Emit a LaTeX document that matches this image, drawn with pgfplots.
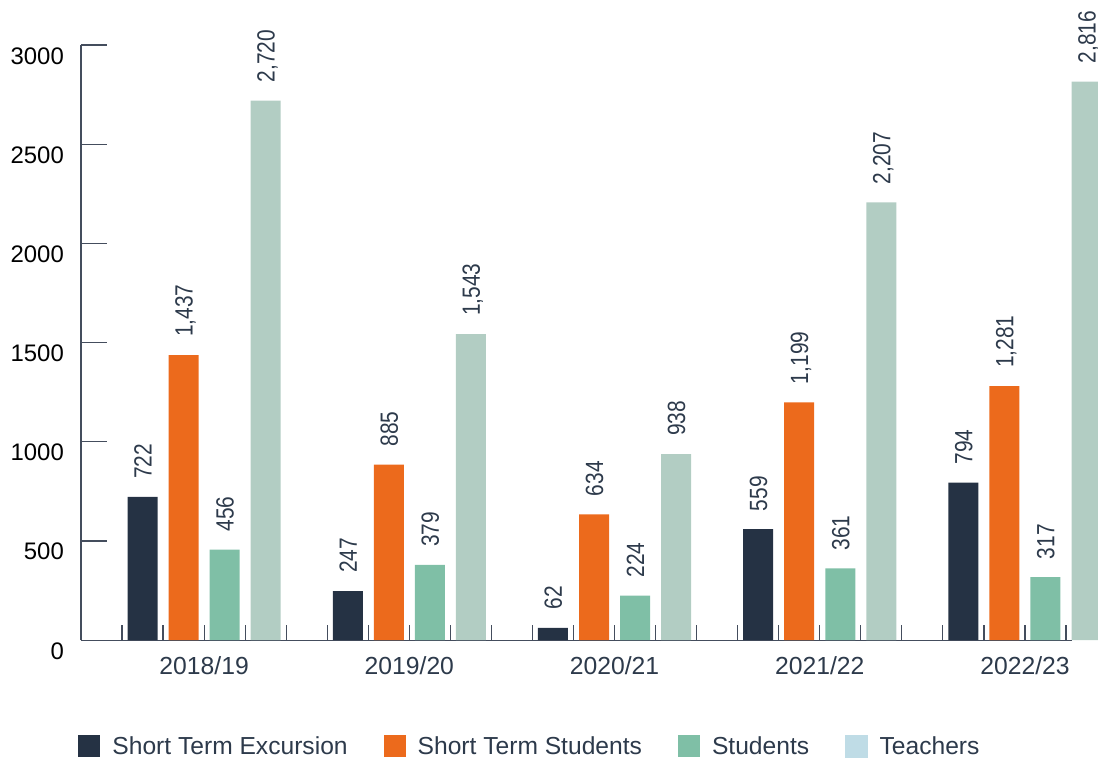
\documentclass[border=0pt]{standalone}
\usepackage{fontspec}
\setmainfont{Liberation Sans}
\newfontfamily\barfont[FakeStretch=0.84]{Liberation Sans}
\usepackage{pgfplots}
\pgfplotsset{compat=1.18}

\definecolor{navy}{HTML}{253244}
\definecolor{orng}{HTML}{EC6A1C}
\definecolor{grn}{HTML}{7FBFA6}
\definecolor{sage}{HTML}{B2CDC3}
\definecolor{pale}{HTML}{BFDCE6}
\definecolor{ink}{HTML}{2D3A4B}
\definecolor{axisgray}{HTML}{444D5D}

\pgfplotsset{
  sw/.style={legend image code/.code={\fill[#1] (0bp,-11bp) rectangle (22bp,11bp);}},
}

\begin{document}
\begin{tikzpicture}
\begin{axis}[
  scale only axis,
  width=991bp, height=595bp,
  xmin=0, xmax=24.15,
  ymin=0, ymax=3000,
  clip=false,
  axis lines*=left,
  axis line style={draw=axisgray, line width=1.2bp},
  ybar, bar width=0.731, bar shift=0pt,
  /pgf/number format/assume math mode=true,
  tick align=inside,
  major tick length=15bp,
  tick style={draw=axisgray, line width=1.2bp},
  xtick={1,...,24},
  xticklabels={,,2018/19,,,,,2019/20,,,,,2020/21,,,,,2021/22,,,,,2022/23,},
  ytick=\empty,
  extra y ticks={0,500,1000,1500,2000,2500,3000},
  extra y tick style={major tick length=26bp},
  tick label style={font=\fontsize{24}{29}\selectfont},
  xticklabel style={text=ink, inner sep=0pt, anchor=north, yshift=-17bp,
    text height=17bp, text depth=0pt, font=\fontsize{24.8}{29}\selectfont},
  yticklabel style={text=black, inner sep=0pt, anchor=east, xshift=-17bp,
    yshift=-10.5bp, text height=17bp, text depth=0pt,
    /pgf/number format/1000 sep={}},
  nodes near coords,
  nodes near coords style={font=\barfont\fontsize{25}{30}\selectfont,
    text=ink, rotate=90, anchor=west, inner xsep=18bp, inner ysep=0pt,
    text height=18bp, text depth=0pt},
  legend columns=4,
  legend style={at={(axis cs:11.06,-534.5)}, anchor=center, draw=none,
    fill=none, inner sep=0pt, text=ink,
    font=\fontsize{24.7}{29}\selectfont,
    nodes={inner xsep=12bp, inner ysep=0pt, anchor=west},
    /tikz/every even column/.append style={column sep=24bp}},
]
\addplot[fill=navy, draw=none, sw=navy] coordinates
  {(1.5,722) (6.5,247) (11.5,62) (16.5,559) (21.5,794)};
\addplot[fill=orng, draw=none, sw=orng] coordinates
  {(2.5,1437) (7.5,885) (12.5,634) (17.5,1199) (22.5,1281)};
\addplot[fill=grn, draw=none, sw=grn] coordinates
  {(3.5,456) (8.5,379) (13.5,224) (18.5,361) (23.5,317)};
\addplot[fill=sage, draw=none, forget plot] coordinates
  {(4.5,2720) (9.5,1543) (14.5,938) (19.5,2207) (24.5,2816)};
\addlegendimage{sw=pale}
\legend{Short Term Excursion, Short Term Students, Students, Teachers}
\coordinate (bl) at (axis cs:-1.974,-595);
\coordinate (tr) at (axis cs:24.78,3227);
\end{axis}
\pgfresetboundingbox
\useasboundingbox (bl) rectangle (tr);
\end{tikzpicture}
\end{document}
